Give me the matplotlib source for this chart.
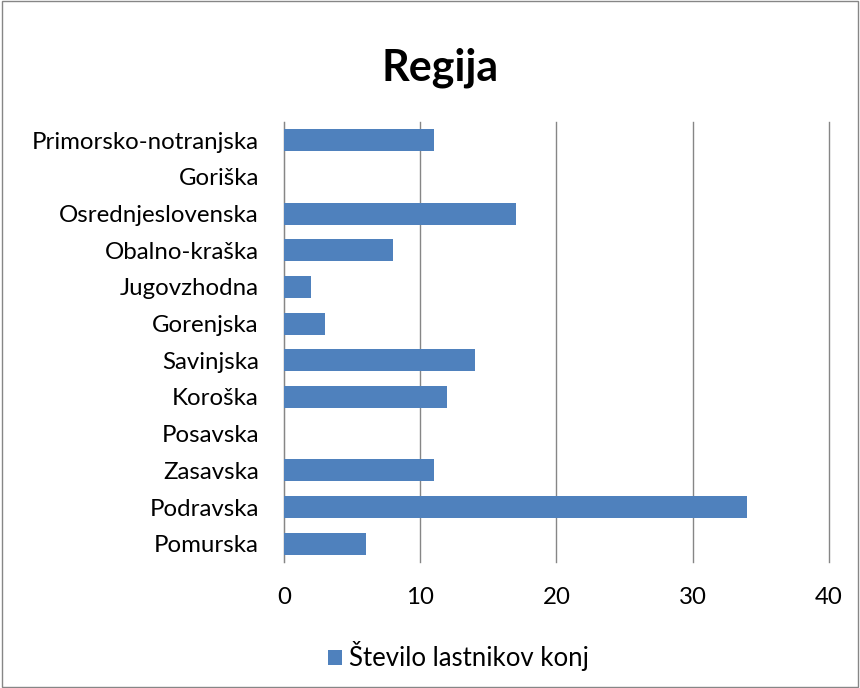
import matplotlib.pyplot as plt
from matplotlib.patches import Rectangle

plt.rcParams['font.family'] = ['Lato', 'DejaVu Sans']

regije = ["Pomurska", "Podravska", "Zasavska", "Posavska", "Koroška", "Savinjska",
          "Gorenjska", "Jugovzhodna", "Obalno-kraška", "Osrednjeslovenska",
          "Goriška", "Primorsko-notranjska"]
lastniki = [6, 34, 11, 0, 12, 14, 3, 2, 8, 17, 0, 11]
serija = "Število lastnikov konj"

fig = plt.figure(figsize=(8.6, 6.88), dpi=100)
ax = fig.add_axes([0.330, 0.183, 0.634, 0.640])

ax.barh(regije, lastniki, height=0.6, color="#4F81BD", label=serija, zorder=3)

ax.set_xlim(0, 40)
ax.set_ylim(-0.5, len(regije) - 0.5)
ax.set_xticks([0, 10, 20, 30, 40])
ax.grid(axis="x", color="#868686", linewidth=1, zorder=0)
for gl in ax.get_xgridlines():
    gl.set_clip_on(False)
ax.tick_params(axis="both", length=0, labelsize=17.3, colors="black")
ax.tick_params(axis="x", pad=18)
ax.tick_params(axis="y", pad=18)
for s in ["top", "right", "bottom"]:
    ax.spines[s].set_visible(False)
ax.spines["left"].set_color("#868686")

fig.text(0.512, 0.901, "Regija", fontsize=31, fontweight="bold", ha="center", va="center")

leg = fig.legend(loc="center", bbox_to_anchor=(0.533, 0.046), frameon=False,
                 fontsize=18.5, handlelength=0.55, handleheight=0.55, handletextpad=0.3)

fig.patches.append(Rectangle((0.002, 0.002), 0.996, 0.996, transform=fig.transFigure,
                             fill=False, edgecolor="#868686", linewidth=1))

fig.savefig("out.png", dpi=100)
